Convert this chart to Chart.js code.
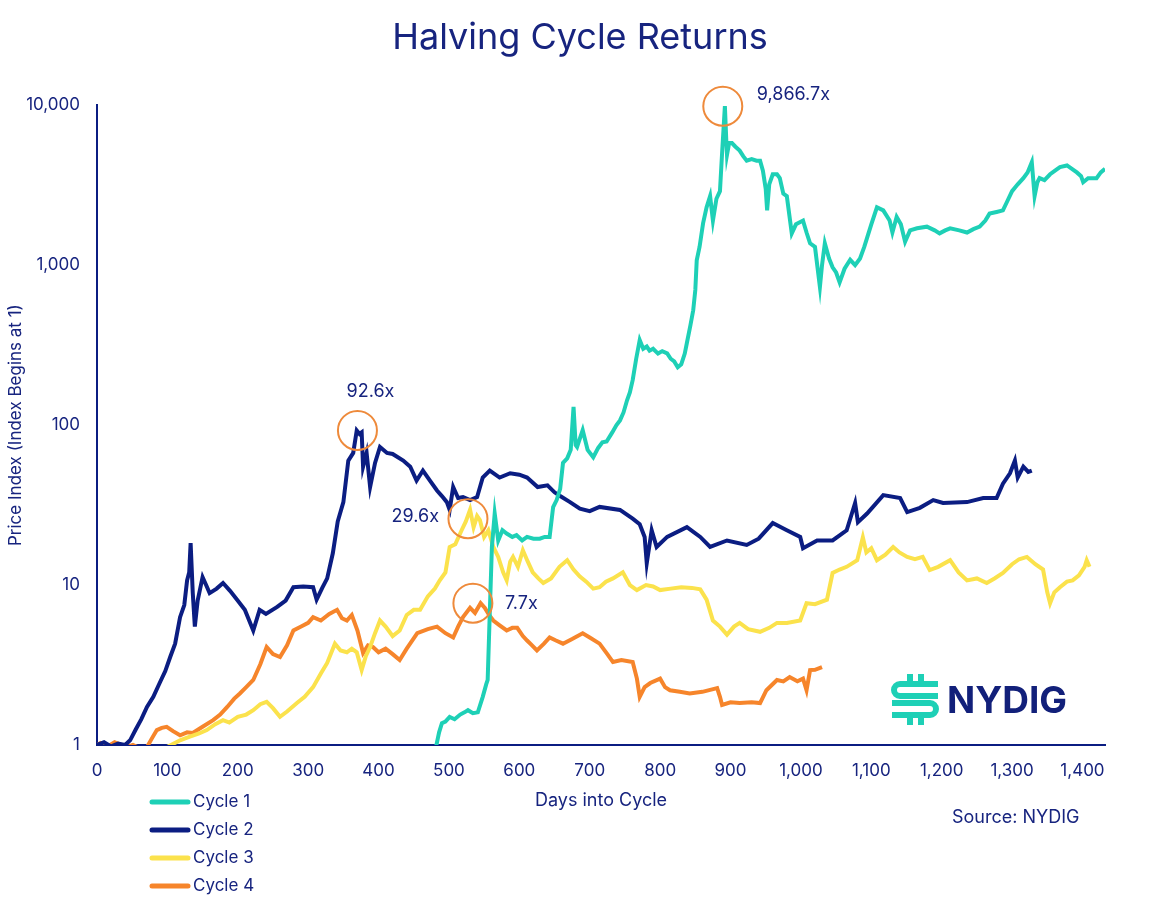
<!DOCTYPE html>
<html>
<head>
<meta charset="utf-8">
<script src="https://cdn.jsdelivr.net/npm/chart.js@4/dist/chart.umd.min.js"></script>
<style>
  html, body { margin: 0; padding: 0; background: #ffffff; }
  #wrap { width: 1160px; height: 901px; position: relative; }
</style>
</head>
<body>
<div id="wrap"><canvas id="c" width="1160" height="901"></canvas></div>
<script>
// ---------------- DATA ----------------
const seriesLabels = ['Cycle 1', 'Cycle 2', 'Cycle 3', 'Cycle 4'];

const cycle1Days = [480,486,490,495,501,508,516,522,527,534,541,548,553,555,558,561,565,570,576,582,590,596,604,611,620,629,636,643,648,653,658,662,668,673,677,680,682,687,690,697,705,712,718,724,732,738,743,748,753,757,761,766,771,776,781,785,790,797,803,810,815,820,825,830,835,838,843,847,850,852,856,861,866,871,875,880,885,888,890,892,894,895,898,902,907,913,918,923,930,937,942,946,950,952,955,960,966,970,975,980,987,993,1003,1008,1013,1020,1027,1030,1034,1040,1045,1050,1055,1062,1070,1077,1084,1090,1094,1100,1108,1117,1126,1130,1136,1142,1148,1155,1165,1179,1190,1197,1205,1212,1225,1236,1245,1254,1262,1268,1278,1287,1293,1300,1308,1316,1322,1328,1332,1336,1339,1346,1354,1361,1368,1378,1385,1392,1398,1401,1408,1420,1426,1432];
const cycle1Values = [0.9,1.2,1.37,1.4,1.5,1.45,1.55,1.6,1.65,1.58,1.6,2.0,2.4,2.55,6.7,17.3,28,19,22,21,20,20.5,19,20,19.5,19.5,20,20,30.7,34,40,58,62,70,130,75,73,85,93,70,63,72,78,79,90,100,107,120,143,160,191,260,340,300,310,292,300,280,290,281,260,250,230,240,280,326,420,522,700,1072,1300,1825,2300,2700,1900,2600,2900,5000,7000,9866.7,6000,4900,5800,5800,5500,5200,4800,4500,4600,4500,4500,3900,3000,2200,3200,3700,3700,3500,2800,2700,1580,1800,1900,1600,1370,1300,730,1000,1370,1100,970,900,780,950,1080,1000,1100,1300,1480,1800,2300,2200,1900,1600,2000,1800,1400,1650,1700,1740,1650,1580,1650,1700,1650,1600,1680,1740,1900,2100,2150,2200,2500,2900,3200,3500,3800,4400,2700,3300,3500,3400,3700,3900,4100,4200,4000,3800,3600,3300,3500,3500,3800,4000];

const cycle2Days = [0,10,20,30,40,47,55,63,71,80,89,97,104,111,118,124,128,131,133,136,139,143,150,155,160,170,179,189,199,210,222,231,240,256,268,279,293,307,312,320,327,335,342,350,357,364,369,373,376,378,383,388,395,402,412,420,435,445,454,463,473,483,490,497,501,506,513,520,530,540,548,558,572,587,600,611,626,640,650,658,672,686,700,714,743,761,771,778,781,788,795,810,838,857,871,895,923,940,960,980,999,1003,1023,1045,1065,1077,1081,1094,1117,1141,1151,1169,1188,1202,1236,1259,1278,1287,1297,1304,1308,1316,1323,1328];
const cycle2Values = [1.0,1.04,0.98,1.02,1.0,1.07,1.25,1.45,1.73,2.0,2.44,2.9,3.55,4.3,6.3,7.5,10.7,12,18.3,9,5.5,8,11.2,10,8.9,9.5,10.3,9.2,8.1,7.0,5.2,7.0,6.6,7.3,8.0,9.7,9.8,9.7,8.1,9.6,11,15.8,25,33,60,67,92.6,88,90,55,67,41,58,73,67,66,60,55,45,52,45,39,36,33,29.5,41,35,35.5,34,35.5,47,52,47,50,49,47,41,42,38,36,33,30,29,30.8,29.5,26,24,20,13.7,22,17.3,20,23,20,17.3,19,17.8,19.5,24.4,22,20,17,19,19,22,32.6,24.7,28,36.5,35,28.6,30.4,34,32.6,33,35,35,43,50,60,47,55,51,52];

const cycle3Days = [0,8,20,40,60,80,95,105,118,130,145,156,168,179,188,200,212,222,232,241,250,260,270,284,295,307,318,327,338,346,355,362,369,376,382,388,395,402,410,420,430,440,450,459,470,480,487,495,501,509,518,524,530,535,540,544,550,556,563,570,577,582,587,591,598,605,612,619,627,634,645,657,668,677,686,695,705,714,723,733,747,757,767,780,790,800,815,830,845,857,866,875,885,895,905,913,925,942,955,966,980,999,1008,1020,1037,1045,1055,1065,1080,1088,1093,1100,1108,1120,1131,1140,1151,1162,1173,1183,1195,1212,1224,1236,1250,1264,1275,1287,1300,1310,1321,1333,1344,1350,1354,1360,1368,1378,1386,1395,1403,1406,1410];
const cycle3Values = [1,0.98,0.9,0.82,0.78,0.85,0.95,1.0,1.07,1.12,1.18,1.24,1.35,1.43,1.38,1.5,1.55,1.65,1.8,1.86,1.7,1.5,1.62,1.83,2.0,2.3,2.8,3.26,4.3,3.9,3.8,4.0,3.8,2.94,3.6,4.1,5.0,6.0,5.5,4.8,5.2,6.5,7.0,7.0,8.5,9.5,10.7,12,17.3,18,22,25,29.6,23,27,25.5,20,22,17.3,15,12,10.7,14,15,13,16.5,14,12,11,10.3,11,13,14.3,12.5,11.3,10.5,9.5,9.7,10.5,11,12,10,9.3,10,9.8,9.3,9.5,9.7,9.6,9.4,8.1,6.0,5.5,4.9,5.5,5.8,5.3,5.1,5.4,5.8,5.8,6.0,7.7,7.6,8.1,11.9,12.5,13,14.3,19.9,16,17,14.3,15.5,17.3,16,15,14.5,15,12.4,13,14.3,12,10.7,11,10.3,11,11.9,13.5,14.5,15,13.5,12.5,9,7.7,9,9.7,10.5,10.7,11.5,13,14.3,13];

const cycle4Days = [0,5,15,25,35,45,51,60,71,78,85,92,99,108,118,128,136,150,165,175,185,195,203,212,222,232,241,250,260,270,279,290,300,307,318,330,341,348,355,362,370,378,385,392,400,410,420,430,440,455,470,483,495,506,513,520,530,537,545,551,557,563,572,582,590,597,605,611,618,625,635,643,652,662,675,690,700,714,725,733,745,761,767,771,778,786,800,807,814,828,842,860,881,885,888,900,913,930,942,951,966,975,984,995,1003,1008,1013,1020,1030];
const cycle4Values = [1.0,1.03,0.98,1.04,1.0,0.98,1.0,0.96,0.97,1.1,1.24,1.28,1.3,1.22,1.15,1.2,1.19,1.3,1.43,1.55,1.73,1.95,2.1,2.3,2.55,3.2,4.1,3.7,3.55,4.2,5.2,5.5,5.8,6.3,6.0,6.6,7.0,6.2,6.0,6.5,5.2,3.76,4.2,4.1,3.8,4.0,3.7,3.4,4.0,5.0,5.3,5.5,5.0,4.7,5.5,6.3,7.2,6.7,7.7,7.2,6.5,6.0,5.6,5.2,5.4,5.4,4.8,4.5,4.2,3.9,4.3,4.7,4.5,4.3,4.6,5.0,4.7,4.3,3.7,3.3,3.4,3.3,2.6,2.0,2.3,2.44,2.6,2.3,2.2,2.15,2.1,2.15,2.27,2.0,1.78,1.85,1.83,1.85,1.83,2.2,2.55,2.5,2.66,2.5,2.6,2.2,2.94,2.95,3.07];

// peak annotations (circle centre in data space + label)
const peakDays   = [889, 370, 527, 534];
const peakValues = [9866.7, 92.6, 26, 7.7];
const peakLabels = ['9,866.7x', '92.6x', '29.6x', '7.7x'];

// axis ticks
const xTickValues = [0,100,200,300,400,500,600,700,800,900,1000,1100,1200,1300,1400];
const yTickValues = [1,10,100,1000,10000];

// ---------------- STYLE ----------------
const NAVY_TEXT = '#17247f';
const NAVY_LINE = '#0b1d82';
const colors = ['#1ed0b6', NAVY_LINE, '#fbe24c', '#f6852b'];
const FONT = 'Inter, "Open Sans", Arial, sans-serif';

function pts(days, vals) { return days.map((d, i) => ({x: d, y: vals[i]})); }
const seriesData = [pts(cycle1Days, cycle1Values), pts(cycle2Days, cycle2Values), pts(cycle3Days, cycle3Values), pts(cycle4Days, cycle4Values)];

const datasets = seriesData.map((d, i) => ({
  label: seriesLabels[i],
  data: d,
  borderColor: colors[i],
  backgroundColor: colors[i],
  borderWidth: 4,
  pointRadius: 0,
  tension: 0,
  fill: false
}));

// annotation label placement relative to circle centre
const labelPlacement = [
  {dx: 34, dy: -12, align: 'left'},
  {dx: 13, dy: -39, align: 'center'},
  {dx: -29, dy: -2, align: 'right'},
  {dx: 32, dy: 0, align: 'left'}
];

const extrasPlugin = {
  id: 'extras',
  afterDatasetsDraw(chart) {
    const {ctx, scales: {x, y}} = chart;
    ctx.save();
    for (let i = 0; i < peakDays.length; i++) {
      const px = x.getPixelForValue(peakDays[i]);
      const py = y.getPixelForValue(peakValues[i]);
      ctx.beginPath();
      ctx.arc(px, py, 19.5, 0, Math.PI * 2);
      ctx.strokeStyle = '#ee8a3b';
      ctx.lineWidth = 2;
      ctx.stroke();
      const lp = labelPlacement[i];
      ctx.fillStyle = NAVY_TEXT;
      ctx.font = '18px ' + FONT;
      ctx.textAlign = lp.align;
      ctx.textBaseline = 'middle';
      ctx.fillText(peakLabels[i], px + lp.dx, py + lp.dy);
    }
    ctx.restore();
  },
  afterDraw(chart) {
    const ctx = chart.ctx;
    ctx.save();
    // custom legend (bottom-left, stacked)
    chart.data.datasets.forEach((ds, i) => {
      const yy = 802 + i * 28;
      ctx.beginPath();
      ctx.moveTo(152, yy);
      ctx.lineTo(188, yy);
      ctx.strokeStyle = ds.borderColor;
      ctx.lineWidth = 5;
      ctx.lineCap = 'round';
      ctx.stroke();
      ctx.fillStyle = NAVY_TEXT;
      ctx.font = '17px ' + FONT;
      ctx.textAlign = 'left';
      ctx.textBaseline = 'middle';
      ctx.fillText(ds.label, 193, yy);
    });
    // source
    ctx.fillStyle = NAVY_TEXT;
    ctx.font = '18px ' + FONT;
    ctx.textAlign = 'left';
    ctx.textBaseline = 'middle';
    ctx.fillText('Source: NYDIG', 952, 818);
    // logo mark
    ctx.strokeStyle = '#1ed0b6';
    ctx.lineWidth = 6;
    ctx.lineCap = 'butt';
    ctx.beginPath();
    ctx.moveTo(938, 684); ctx.lineTo(900, 684);
    ctx.arc(900, 690, 6, -Math.PI / 2, Math.PI / 2, true);
    ctx.lineTo(938, 696);
    ctx.stroke();
    ctx.beginPath();
    ctx.moveTo(892, 703); ctx.lineTo(930, 703);
    ctx.arc(930, 709, 6, -Math.PI / 2, Math.PI / 2, false);
    ctx.lineTo(892, 715);
    ctx.stroke();
    ctx.beginPath();
    ctx.moveTo(910, 674); ctx.lineTo(910, 681);
    ctx.moveTo(921, 674); ctx.lineTo(921, 681);
    ctx.moveTo(910, 718); ctx.lineTo(910, 725);
    ctx.moveTo(921, 718); ctx.lineTo(921, 725);
    ctx.stroke();
    ctx.fillStyle = '#12207a';
    ctx.font = 'bold 37px ' + FONT;
    ctx.textAlign = 'left';
    ctx.textBaseline = 'alphabetic';
    ctx.fillText('NYDIG', 947, 713);
    ctx.restore();
  }
};

new Chart(document.getElementById('c'), {
  type: 'line',
  data: { datasets },
  plugins: [extrasPlugin],
  options: {
    responsive: false,
    animation: false,
    devicePixelRatio: 1,
    layout: { padding: { left: 0, right: 0, top: 0, bottom: 0 } },
    plugins: {
      legend: { display: false },
      tooltip: { enabled: false },
      title: {
        display: true,
        text: 'Halving Cycle Returns',
        color: NAVY_TEXT,
        font: { family: FONT, size: 36, weight: 'normal' },
        padding: { top: 17, bottom: 45 }
      }
    },
    scales: {
      x: {
        type: 'linear',
        min: 0,
        max: 1432,
        grid: { display: false, drawTicks: false },
        border: { display: true, color: NAVY_LINE, width: 2 },
        afterBuildTicks: s => { s.ticks = xTickValues.map(v => ({value: v})); },
        afterFit: s => { s.height = 156; },
        ticks: {
          color: NAVY_TEXT,
          font: { family: FONT, size: 17 },
          padding: 16,
          maxRotation: 0,
          autoSkip: false,
          callback: v => Number(v).toLocaleString('en-US')
        },
        title: {
          display: true,
          text: 'Days into Cycle',
          color: NAVY_TEXT,
          font: { family: FONT, size: 18 },
          padding: { top: 0, bottom: 90 }
        }
      },
      y: {
        type: 'logarithmic',
        min: 1,
        max: 10000,
        grid: { display: false, drawTicks: false },
        border: { display: true, color: NAVY_LINE, width: 2 },
        afterBuildTicks: s => { s.ticks = yTickValues.map(v => ({value: v})); },
        afterFit: s => { s.width = 97; },
        ticks: {
          color: NAVY_TEXT,
          font: { family: FONT, size: 17 },
          padding: 17,
          autoSkip: false,
          callback: v => Number(v).toLocaleString('en-US')
        },
        title: {
          display: true,
          text: 'Price Index (Index Begins at 1)',
          color: NAVY_TEXT,
          font: { family: FONT, size: 17 },
          padding: { top: 6, bottom: 0 }
        }
      },
      yRightSpacer: {
        type: 'linear',
        position: 'right',
        display: true,
        grid: { display: false, drawTicks: false },
        border: { display: false },
        ticks: { display: false },
        afterFit: s => { s.width = 55; }
      }
    }
  }
});
</script>
</body>
</html>
